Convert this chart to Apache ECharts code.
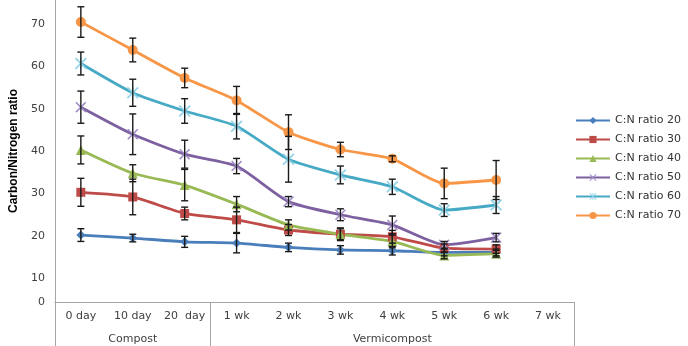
<!DOCTYPE html>
<html>
<head>
<meta charset="utf-8">
<script src="https://cdn.jsdelivr.net/npm/echarts@6/dist/echarts.min.js"></script>
<style>
html,body{margin:0;padding:0;background:#fff;}
#chart{width:688px;height:346px;}
</style>
</head>
<body>
<div id="chart"></div>
<script>
// ---- data ----
const categories = ['0 day', '10 day', '20  day', '1 wk', '2 wk', '3 wk', '4 wk', '5 wk', '6 wk', '7 wk'];
const categoryGroups = ['Compost', 'Compost', 'Compost', 'Vermicompost', 'Vermicompost', 'Vermicompost', 'Vermicompost', 'Vermicompost', 'Vermicompost', 'Vermicompost'];
const seriesNames = ['C:N ratio 20', 'C:N ratio 30', 'C:N ratio 40', 'C:N ratio 50', 'C:N ratio 60', 'C:N ratio 70'];
const ratio20 = [20.2, 19.5, 18.6, 18.3, 17.3, 16.7, 16.5, 16.1, 16.1];
const ratio30 = [30.3, 29.2, 25.3, 23.8, 21.4, 20.4, 19.8, 17.1, 16.9];
const ratio40 = [40.3, 34.8, 32.0, 27.5, 22.6, 20.4, 18.7, 15.4, 15.8];
const ratio50 = [50.4, 44.0, 39.3, 36.5, 28.1, 25.0, 22.6, 17.9, 19.6];
const ratio60 = [60.7, 53.8, 49.5, 45.9, 38.1, 34.4, 31.6, 26.1, 27.3];
const ratio70 = [70.5, 63.9, 57.3, 52.0, 44.5, 40.4, 38.2, 32.4, 33.2];
const err20 = [1.5, 0.9, 1.3, 2.3, 1.0, 1.0, 1.0, 0.8, 0.8];
const err30 = [3.3, 4.2, 1.5, 3.0, 1.3, 1.5, 1.5, 1.0, 1.0];
const err40 = [3.3, 2.0, 3.7, 1.8, 1.2, 1.3, 1.5, 0.8, 0.8];
const err50 = [3.8, 4.8, 3.3, 1.8, 1.2, 1.4, 2.1, 0.8, 1.0];
const err60 = [2.7, 3.2, 2.9, 3.0, 5.4, 2.1, 1.8, 1.5, 2.0];
const err70 = [3.6, 2.8, 2.3, 3.3, 4.1, 1.7, 0.7, 3.6, 4.6];
const yTickValues = [10, 20, 30, 40, 50, 60, 70];
const yBottomLabel = '0';
const yAxisMin = 4.4;
const yAxisMax = 75.7;
const yAxisTitle = 'Carbon/Nitrogen ratio';

// ---- styles ----
const values = [ratio20, ratio30, ratio40, ratio50, ratio60, ratio70];
const errors = [err20, err30, err40, err50, err60, err70];
const colors = ['#4A7EBB', '#BE4B48', '#98B954', '#7D60A0', '#46AAC5', '#F79646'];
const markerColors = ['#4A7EBB', '#BE4B48', '#98B954', '#A08CC8', '#93D3E6', '#F79646'];
const xPath = 'path://M1,0L5,4L9,0L10,1L6,5L10,9L9,10L5,6L1,10L0,9L4,5L0,1Z';
const starPath = 'path://M1,0L5,4L9,0L10,1L6,5L10,9L9,10L5,6L1,10L0,9L4,5L0,1Z M4.4,0L5.6,0L5.6,10L4.4,10Z';
const symbols = ['diamond', 'rect', 'triangle', xPath, starPath, 'circle'];
const symbolSizes = [9, 9, 10, 11, 12, 10];
const font = 'DejaVu Sans, Verdana, sans-serif';

// group label positions (middle of each group)
const groupMid = {};
(function () {
  const seen = {};
  categoryGroups.forEach((g, i) => { if (!(g in seen)) seen[g] = [i, i]; else seen[g][1] = i; });
  Object.keys(seen).forEach(g => { groupMid[(seen[g][0] + seen[g][1]) / 2] = g; });
})();
const groupStarts = categoryGroups.map((g, i) => i === 0 || categoryGroups[i - 1] !== g);

const series = [];
seriesNames.forEach((name, k) => {
  series.push({
    name: name,
    type: 'line',
    data: values[k],
    smooth: 0.2,
    symbol: symbols[k],
    symbolSize: symbolSizes[k],
    showAllSymbol: true,
    lineStyle: { color: colors[k], width: 2.8 },
    itemStyle: { color: markerColors[k] },
    z: 2
  });
});
seriesNames.forEach((name, k) => {
  series.push({
    name: name + ' err',
    type: 'custom',
    data: values[k].map((v, i) => [i, v - errors[k][i], v + errors[k][i]]),
    renderItem: function (params, api) {
      const lo = api.coord([api.value(0), api.value(1)]);
      const hi = api.coord([api.value(0), api.value(2)]);
      const x = lo[0];
      const w = 3.5;
      const st = { stroke: '#1a1a1a', lineWidth: 1.4 };
      return {
        type: 'group',
        children: [
          { type: 'line', shape: { x1: x, y1: lo[1], x2: x, y2: hi[1] }, style: st },
          { type: 'line', shape: { x1: x - w, y1: lo[1], x2: x + w, y2: lo[1] }, style: st },
          { type: 'line', shape: { x1: x - w, y1: hi[1], x2: x + w, y2: hi[1] }, style: st }
        ]
      };
    },
    z: 3,
    silent: true
  });
});

const chart = echarts.init(document.getElementById('chart'));
chart.setOption({
  animation: false,
  backgroundColor: '#ffffff',
  grid: { left: 52, right: 114, top: 0, bottom: 44, containLabel: false },
  legend: {
    data: seriesNames,
    orient: 'vertical',
    left: 570,
    top: 110,
    itemWidth: 34,
    itemHeight: 9,
    itemGap: 8,
    textStyle: { fontFamily: font, fontSize: 11, color: '#333' }
  },
  xAxis: [
    {
      type: 'category',
      data: categories,
      boundaryGap: true,
      position: 'bottom',
      axisLine: { lineStyle: { color: '#A6A6A6', width: 1 } },
      axisTick: {
        show: true,
        interval: function (i) { return groupStarts[i]; },
        length: 44,
        lineStyle: { color: '#A6A6A6', width: 1 }
      },
      axisLabel: { interval: 0, margin: 9, fontFamily: font, fontSize: 11, color: '#404040' },
      splitLine: { show: false }
    },
    {
      type: 'category',
      data: categories,
      boundaryGap: true,
      position: 'bottom',
      axisLine: { show: false },
      axisTick: { show: false },
      axisLabel: {
        interval: 0,
        margin: 32,
        fontFamily: font,
        fontSize: 11,
        color: '#404040',
        formatter: function (v, i) { return groupMid[i] || ''; }
      },
      splitLine: { show: false }
    }
  ],
  yAxis: {
    type: 'value',
    min: yAxisMin,
    max: yAxisMax,
    name: yAxisTitle,
    nameLocation: 'middle',
    nameGap: 34,
    nameTextStyle: { fontFamily: 'Liberation Sans Narrow, Arial Narrow, sans-serif', fontWeight: 'bold', fontSize: 12, color: '#000' },
    axisLine: { show: true, lineStyle: { color: '#A6A6A6', width: 1 } },
    axisTick: { show: false },
    splitLine: { show: false },
    axisLabel: {
      customValues: [yAxisMin].concat(yTickValues),
      margin: 10,
      fontFamily: font,
      fontSize: 11,
      color: '#404040',
      formatter: function (v) { return v === yAxisMin ? yBottomLabel : String(v); }
    }
  },
  series: series
});
</script>
</body>
</html>
